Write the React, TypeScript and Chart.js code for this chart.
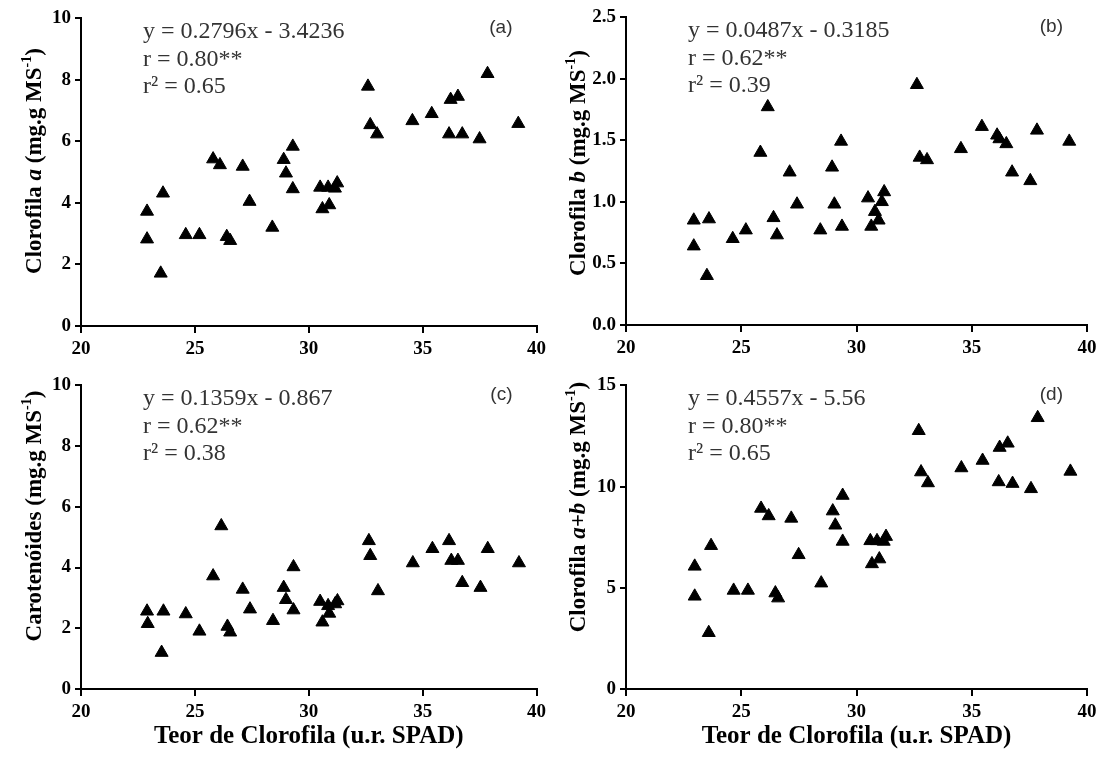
import React, { useEffect, useRef } from 'react';
import { Chart, registerables } from 'chart.js';

Chart.register(...registerables);

// ---------- data ----------
const spadA = [22.9, 22.9, 23.5, 23.6, 24.6, 25.2, 25.8, 26.1, 26.4, 26.55, 27.1, 27.4, 28.4, 28.9, 29.0, 29.3, 29.3, 30.5, 30.6, 30.85, 30.9, 31.15, 31.25, 32.6, 32.7, 33.0, 34.55, 35.4, 36.16, 36.23, 36.55, 36.74, 37.5, 37.85, 39.2];
const clorofilaA = [3.72, 2.82, 1.71, 4.31, 2.96, 2.96, 5.42, 5.23, 2.9, 2.77, 5.18, 4.04, 3.2, 5.4, 4.96, 5.83, 4.45, 4.5, 3.8, 4.5, 3.93, 4.47, 4.64, 7.78, 6.53, 6.23, 6.66, 6.89, 6.23, 7.35, 7.45, 6.23, 6.07, 8.19, 6.57];

const spadB = [22.94, 22.94, 23.51, 23.6, 24.63, 25.2, 25.83, 26.15, 26.4, 26.55, 27.1, 27.42, 28.43, 28.94, 29.04, 29.33, 29.37, 30.5, 30.64, 30.8, 30.96, 31.1, 31.2, 32.62, 32.74, 33.06, 34.53, 35.44, 36.1, 36.2, 36.5, 36.75, 37.54, 37.83, 39.23];
const clorofilaB = [0.85, 0.64, 0.4, 0.86, 0.7, 0.77, 1.4, 1.77, 0.87, 0.73, 1.24, 0.98, 0.77, 1.28, 0.98, 1.49, 0.8, 1.03, 0.8, 0.92, 0.85, 1.0, 1.08, 1.95, 1.36, 1.34, 1.43, 1.61, 1.54, 1.51, 1.47, 1.24, 1.17, 1.58, 1.49];

const spadC = [22.9, 22.93, 23.54, 23.62, 24.6, 25.2, 25.8, 26.16, 26.43, 26.55, 27.1, 27.42, 28.43, 28.9, 29.0, 29.33, 29.33, 30.5, 30.6, 30.85, 30.9, 31.16, 31.26, 32.64, 32.7, 33.04, 34.57, 35.43, 36.16, 36.26, 36.55, 36.74, 37.54, 37.86, 39.23];
const carotenoides = [2.56, 2.15, 1.2, 2.56, 2.47, 1.9, 3.72, 5.37, 2.06, 1.87, 3.28, 2.63, 2.25, 3.34, 2.94, 4.02, 2.6, 2.88, 2.2, 2.74, 2.49, 2.8, 2.9, 4.88, 4.39, 3.23, 4.15, 4.62, 4.88, 4.23, 4.23, 3.5, 3.34, 4.62, 4.15];

const spadD = [22.98, 22.98, 23.59, 23.69, 24.67, 25.29, 25.86, 26.19, 26.48, 26.6, 27.17, 27.49, 28.47, 28.97, 29.08, 29.4, 29.4, 30.6, 30.67, 30.89, 30.99, 31.18, 31.28, 32.7, 32.8, 33.1, 34.55, 35.47, 36.17, 36.21, 36.56, 36.77, 37.57, 37.86, 39.28];
const clorofilaAB = [6.06, 4.58, 2.78, 7.08, 4.87, 4.87, 8.92, 8.55, 4.74, 4.49, 8.43, 6.63, 5.23, 8.79, 8.09, 9.56, 7.29, 7.32, 6.18, 7.32, 6.42, 7.29, 7.53, 12.76, 10.72, 10.18, 10.92, 11.29, 10.23, 11.93, 12.14, 10.15, 9.89, 13.4, 10.75];

// axis ranges / ticks
const xRange = [20, 40];
const xStep = 5;
const yMaxes = [10, 2.5, 10, 15];
const ySteps = [2, 0.5, 2, 5];
const yDecimals = [0, 1, 0, 0];

// texts
const panelLetters = ['(a)', '(b)', '(c)', '(d)'];
const equations = ['y = 0.2796x - 3.4236', 'y = 0.0487x - 0.3185', 'y = 0.1359x - 0.867', 'y = 0.4557x - 5.56'];
const rValues = ['r = 0.80**', 'r = 0.62**', 'r = 0.62**', 'r = 0.80**'];
const r2Values = ['r\u00B2 = 0.65', 'r\u00B2 = 0.39', 'r\u00B2 = 0.38', 'r\u00B2 = 0.65'];
const xTitle = 'Teor de Clorofila (u.r. SPAD)';
const yTitleNames = [
  [{ t: 'Clorofila ' }, { t: 'a', i: true }],
  [{ t: 'Clorofila ' }, { t: 'b', i: true }],
  [{ t: 'Caroten\u00F3ides' }],
  [{ t: 'Clorofila ' }, { t: 'a+b', i: true }],
];
const yTitleUnit = [{ t: ' (mg.g MS' }, { t: '-1', s: true }, { t: ')' }];

// ---------- layout ----------
type Seg = { t: string; i?: boolean; s?: boolean };
interface PanelLayout {
  left: number; top: number; w: number; h: number;
  yWidth: number; xHeight: number; padTop: number; padRight: number;
  titleBaseX: number; titleCenterY: number; showXTitle: boolean;
}
const layouts: PanelLayout[] = [
  { left: 0, top: 0, w: 551, h: 370, yWidth: 81, xHeight: 44, padTop: 18, padRight: 10, titleBaseX: 41, titleCenterY: 161, showXTitle: false },
  { left: 551, top: 0, w: 552, h: 370, yWidth: 75, xHeight: 45, padTop: 17, padRight: 16, titleBaseX: 34, titleCenterY: 163, showXTitle: false },
  { left: 0, top: 370, w: 551, h: 388, yWidth: 81, xHeight: 69, padTop: 12, padRight: 10, titleBaseX: 41, titleCenterY: 146, showXTitle: true },
  { left: 551, top: 370, w: 552, h: 388, yWidth: 75, xHeight: 69, padTop: 13, padRight: 16, titleBaseX: 34, titleCenterY: 137, showXTitle: true },
];
const seriesX = [spadA, spadB, spadC, spadD];
const seriesY = [clorofilaA, clorofilaB, carotenoides, clorofilaAB];

const SERIF = '"Liberation Serif", "Times New Roman", serif';
const SANS = '"Liberation Sans", Arial, sans-serif';

function drawRotatedTitle(ctx: CanvasRenderingContext2D, segs: Seg[], baseX: number, centerY: number, size: number) {
  const fontFor = (s: Seg) => `${s.i ? 'italic ' : ''}bold ${s.s ? Math.round(size * 0.62) : size}px ${SERIF}`;
  const widths = segs.map((s) => {
    ctx.font = fontFor(s);
    return ctx.measureText(s.t).width;
  });
  const total = widths.reduce((a, b) => a + b, 0);
  ctx.save();
  ctx.translate(baseX, centerY);
  ctx.rotate(-Math.PI / 2);
  ctx.fillStyle = '#000';
  ctx.textBaseline = 'alphabetic';
  ctx.textAlign = 'left';
  let x = -total / 2;
  segs.forEach((s, k) => {
    ctx.font = fontFor(s);
    ctx.fillText(s.t, x, s.s ? -size * 0.42 : 0);
    x += widths[k];
  });
  ctx.restore();
}

function makeConfig(idx: number): any {
  const L = layouts[idx];
  const xs = seriesX[idx];
  const ys = seriesY[idx];
  const textPlugin = {
    id: 'panelText' + idx,
    afterDraw(chart: any) {
      const ctx: CanvasRenderingContext2D = chart.ctx;
      const ca = chart.chartArea;
      ctx.save();
      ctx.fillStyle = '#333';
      ctx.textAlign = 'left';
      ctx.textBaseline = 'alphabetic';
      ctx.font = `24px ${SERIF}`;
      ctx.fillText(equations[idx], ca.left + 62, ca.top + 20);
      ctx.fillText(rValues[idx], ca.left + 62, ca.top + 47.5);
      ctx.fillText(r2Values[idx], ca.left + 62, ca.top + 75);
      ctx.font = `19px ${SANS}`;
      ctx.textAlign = 'right';
      ctx.fillText(panelLetters[idx], ca.right - 24, ca.top + 15);
      ctx.restore();
      drawRotatedTitle(ctx, [...yTitleNames[idx], ...yTitleUnit] as Seg[], L.titleBaseX, L.titleCenterY, 23);
    },
  };
  const tickFont = { family: SERIF, size: 19, weight: 'bold' as const };
  return {
    type: 'scatter',
    data: {
      datasets: [
        {
          data: xs.map((x, k) => ({ x, y: ys[k] })),
          pointStyle: 'triangle',
          radius: 7.5,
          hoverRadius: 7.5,
          backgroundColor: '#000',
          borderColor: '#000',
          borderWidth: 1,
        },
      ],
    },
    options: {
      animation: false,
      responsive: false,
      devicePixelRatio: 1,
      layout: { padding: { top: L.padTop, right: L.padRight, left: 0, bottom: 0 } },
      plugins: { legend: { display: false }, tooltip: { enabled: false } },
      scales: {
        x: {
          type: 'linear',
          min: xRange[0],
          max: xRange[1],
          ticks: { stepSize: xStep, color: '#000', font: tickFont, padding: 5 },
          grid: { drawOnChartArea: false, drawTicks: true, tickLength: 7, color: '#000', lineWidth: 2 },
          border: { display: true, color: '#000', width: 2 },
          title: {
            display: L.showXTitle,
            text: xTitle,
            color: '#000',
            font: { family: SERIF, size: 25, weight: 'bold' },
            padding: { top: 4, bottom: 6 },
          },
          afterFit: (s: any) => {
            s.height = L.xHeight;
          },
        },
        y: {
          type: 'linear',
          min: 0,
          max: yMaxes[idx],
          ticks: {
            stepSize: ySteps[idx],
            color: '#000',
            font: tickFont,
            padding: 4,
            callback: (v: number) => Number(v).toFixed(yDecimals[idx]),
          },
          grid: { drawOnChartArea: false, drawTicks: true, tickLength: 6, color: '#000', lineWidth: 2 },
          border: { display: true, color: '#000', width: 2 },
          afterFit: (s: any) => {
            s.width = L.yWidth;
          },
        },
      },
    },
    plugins: [textPlugin],
  };
}

export default function App() {
  const refs = [useRef<HTMLCanvasElement>(null), useRef<HTMLCanvasElement>(null), useRef<HTMLCanvasElement>(null), useRef<HTMLCanvasElement>(null)];
  useEffect(() => {
    const charts = refs.map((r, idx) => new Chart(r.current as HTMLCanvasElement, makeConfig(idx)));
    return () => charts.forEach((c) => c.destroy());
  }, []);
  return (
    <div style={{ position: 'absolute', left: 0, top: 0, width: 1103, height: 758, background: '#fff' }}>
      {layouts.map((L, idx) => (
        <div key={idx} style={{ position: 'absolute', left: L.left, top: L.top, width: L.w, height: L.h }}>
          <canvas ref={refs[idx]} width={L.w} height={L.h} style={{ width: L.w, height: L.h, display: 'block' }} />
        </div>
      ))}
    </div>
  );
}
